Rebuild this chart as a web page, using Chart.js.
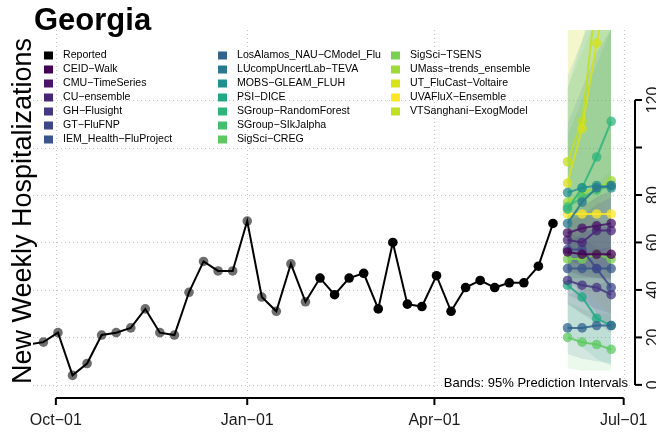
<!DOCTYPE html>
<html>
<head>
<meta charset="utf-8">
<script src="https://cdn.jsdelivr.net/npm/chart.js@4.4.0/dist/chart.umd.min.js"></script>
<style>
  html, body { margin: 0; padding: 0; background: #fff; }
  canvas { display: block; }
</style>
</head>
<body>
<canvas id="chart" width="656" height="435"></canvas>
<script>
// weekly reported hospitalizations (first one sits just left of the plot)
const reportedDates = [
  '2022-09-18', '2022-09-25', '2022-10-02', '2022-10-09', '2022-10-16', '2022-10-23', '2022-10-30',
  '2022-11-06', '2022-11-13', '2022-11-20', '2022-11-27', '2022-12-04', '2022-12-11', '2022-12-18',
  '2022-12-25', '2023-01-01', '2023-01-08', '2023-01-15', '2023-01-22', '2023-01-29', '2023-02-05',
  '2023-02-12', '2023-02-19', '2023-02-26', '2023-03-05', '2023-03-12', '2023-03-19', '2023-03-26',
  '2023-04-02', '2023-04-09', '2023-04-16', '2023-04-23', '2023-04-30', '2023-05-07', '2023-05-14',
  '2023-05-21', '2023-05-28'
];
const reportedValues = [
  17, 18, 22, 4, 9, 21, 22, 24, 32, 22, 21, 39, 52, 48, 48, 69, 37, 31, 51, 35,
  45, 38, 45, 47, 32, 60, 34, 33, 46, 31, 41, 44, 41, 43, 43, 50, 68
];
const greyUntil = '2023-01-29';

const forecastDates = ['2023-06-04', '2023-06-11', '2023-06-18', '2023-06-25'];

const modelNames = [
  'CEID−Walk', 'CMU−TimeSeries', 'CU−ensemble', 'GH−Flusight', 'GT−FluFNP', 'IEM_Health−FluProject',
  'LosAlamos_NAU−CModel_Flu', 'LUcompUncertLab−TEVA', 'MOBS−GLEAM_FLUH', 'PSI−DICE',
  'SGroup−RandomForest', 'SGroup−SIkJalpha', 'SigSci−CREG', 'SigSci−TSENS',
  'UMass−trends_ensemble', 'UT_FluCast−Voltaire', 'UVAFluX−Ensemble', 'VTSanghani−ExogModel'
];
const modelColors = [
  '#440154', '#481568', '#482677', '#453781', '#3f4788', '#39558c',
  '#32648e', '#2a788e', '#21908c', '#22a884',
  '#2fb47c', '#44bf70', '#5ec962', '#7ad151',
  '#a0da39', '#d6e21a', '#fde725', '#c2df23'
];
const medianValues = [
  [56, 55, 55, 55], [64, 66, 67, 68], [61, 60, 65, 65], [44, 42, 41, 38], [57, 57, 49, 41], [49, 49, 49, 49],
  [24, 24, 25, 25], [68, 77, 83, 84], [81, 83, 84, 83], [42, 37, 28, 25],
  [74, 83, 96, 111], [75, 79, 82, 84], [20, 18, 17, 15], [53, 53, 55, 53],
  [77, 81, 83, 86], [85, 108, 144, 175], [72, 72, 72, 72], [94, 111, 165, 185]
];
const lowerValues = [
  [48, 46, 45, 44], [57, 55, 54, 53], [53, 50, 49, 48], [34, 30, 26, 22], [45, 38, 30, 24], [38, 35, 32, 30],
  [13, 11, 10, 9], [45, 45, 45, 45], [45, 42, 40, 38], [22, 16, 11, 8],
  [50, 52, 55, 58], [50, 48, 46, 45], [7, 6, 6, 6], [35, 30, 28, 25],
  [45, 45, 45, 45], [55, 60, 70, 80], [45, 40, 35, 30], [60, 65, 75, 85]
];
const upperValues = [
  [64, 65, 66, 67], [71, 75, 79, 82], [69, 71, 76, 79], [55, 56, 57, 58], [70, 72, 70, 65], [60, 64, 66, 68],
  [38, 40, 42, 44], [110, 125, 140, 150], [130, 145, 160, 175], [64, 62, 58, 54],
  [125, 145, 170, 200], [105, 120, 135, 150], [35, 32, 30, 30], [75, 80, 85, 90],
  [125, 140, 155, 170], [155, 190, 240, 290], [105, 120, 135, 150], [170, 210, 260, 300]
];

const tickDates = ['2022-10-01', '2023-01-01', '2023-04-01', '2023-07-01'];
const tickLabels = ['Oct−01', 'Jan−01', 'Apr−01', 'Jul−01'];
const yTicks = [0, 20, 40, 60, 80, 100, 120];
const yTickLabels = ['0', '20', '40', '60', '80', '', '120'];

const FONT = '"Liberation Sans", Arial, Helvetica, sans-serif';
const origin = Date.UTC(2022, 9, 1);
function dayOf(s) {
  const p = s.split('-').map(Number);
  return (Date.UTC(p[0], p[1] - 1, p[2]) - origin) / 864e5;
}
function rgba(hex, a) {
  const n = parseInt(hex.slice(1), 16);
  return 'rgba(' + (n >> 16) + ',' + ((n >> 8) & 255) + ',' + (n & 255) + ',' + a + ')';
}
const fDays = forecastDates.map(dayOf);
const greyDay = dayOf(greyUntil);

const datasets = [];
// prediction bands
modelNames.forEach((m, i) => {
  datasets.push({
    data: fDays.map((d, j) => ({ x: d, y: upperValues[i][j] })),
    fill: '+1', backgroundColor: rgba(modelColors[i], 0.12),
    borderWidth: 0, pointRadius: 0, order: 20
  });
  datasets.push({
    data: fDays.map((d, j) => ({ x: d, y: lowerValues[i][j] })),
    fill: false, borderWidth: 0, pointRadius: 0, order: 20
  });
});
// medians
modelNames.forEach((m, i) => {
  datasets.push({
    data: fDays.map((d, j) => ({ x: d, y: medianValues[i][j] })),
    fill: false, borderColor: rgba(modelColors[i], 0.85), borderWidth: 2,
    pointRadius: 4.8, pointBorderWidth: 0, pointBackgroundColor: rgba(modelColors[i], 0.75),
    order: 5
  });
});
const repData = reportedDates.map((s, i) => ({ x: dayOf(s), y: reportedValues[i] }));
datasets.push({
  data: repData, showLine: false, order: 3,
  pointRadius: c => (c.raw && c.raw.x >= -7 && c.raw.x <= greyDay) ? 4.8 : 0,
  pointBorderWidth: 0, pointBackgroundColor: '#6e6e6e'
});
datasets.push({
  data: repData, fill: false, borderColor: '#000', borderWidth: 2, order: 1,
  pointRadius: c => (c.raw && c.raw.x > greyDay) ? 4.8 : 0,
  pointBorderWidth: 0, pointBackgroundColor: '#000'
});

const decor = {
  id: 'decor',
  beforeDraw(chart) {
    const { ctx, chartArea: a, scales: { x, y } } = chart;
    ctx.save();
    ctx.strokeStyle = '#c4c4c4';
    ctx.lineWidth = 1;
    ctx.setLineDash([1, 3]);
    tickDates.forEach(s => {
      const px = Math.round(x.getPixelForValue(dayOf(s))) + 0.5;
      ctx.beginPath(); ctx.moveTo(px, a.top); ctx.lineTo(px, a.bottom); ctx.stroke();
    });
    yTicks.forEach(v => {
      const py = Math.round(y.getPixelForValue(v)) + 0.5;
      ctx.beginPath(); ctx.moveTo(a.left, py); ctx.lineTo(a.right, py); ctx.stroke();
    });
    ctx.restore();
  },
  afterDraw(chart) {
    const { ctx, scales: { x, y } } = chart;
    ctx.save();
    ctx.strokeStyle = '#000';
    ctx.lineWidth = 2;
    // x axis
    const x0 = x.getPixelForValue(dayOf(tickDates[0]));
    const x1 = x.getPixelForValue(dayOf(tickDates[tickDates.length - 1]));
    ctx.beginPath(); ctx.moveTo(x0, 398); ctx.lineTo(x1, 398); ctx.stroke();
    ctx.fillStyle = '#1a1a1a';
    ctx.font = '16px ' + FONT;
    ctx.textAlign = 'center';
    ctx.textBaseline = 'middle';
    tickDates.forEach((s, i) => {
      const px = x.getPixelForValue(dayOf(s));
      ctx.beginPath(); ctx.moveTo(px, 398); ctx.lineTo(px, 405); ctx.stroke();
      ctx.fillText(tickLabels[i], px, 421);
    });
    // y axis on the right
    const yb = y.getPixelForValue(yTicks[0]);
    const yt = y.getPixelForValue(yTicks[yTicks.length - 1]);
    ctx.beginPath(); ctx.moveTo(635, yb); ctx.lineTo(635, yt); ctx.stroke();
    yTicks.forEach((v, i) => {
      const py = y.getPixelForValue(v);
      ctx.beginPath(); ctx.moveTo(635, py); ctx.lineTo(642, py); ctx.stroke();
      if (!yTickLabels[i]) return;
      ctx.save();
      ctx.translate(658, py);
      ctx.rotate(-Math.PI / 2);
      ctx.textBaseline = 'alphabetic';
      ctx.fillText(yTickLabels[i], 0, 0);
      ctx.restore();
    });
    // y title
    ctx.save();
    ctx.fillStyle = '#000';
    ctx.translate(31, 211);
    ctx.rotate(-Math.PI / 2);
    ctx.font = '27px ' + FONT;
    ctx.textBaseline = 'alphabetic';
    ctx.fillText('New Weekly Hospitalizations', 0, 0);
    ctx.restore();
    // title
    ctx.fillStyle = '#000';
    ctx.font = 'bold 31px ' + FONT;
    ctx.textAlign = 'left';
    ctx.textBaseline = 'alphabetic';
    ctx.fillText('Georgia', 34, 30);
    // note
    ctx.font = '13px ' + FONT;
    ctx.textAlign = 'right';
    ctx.textBaseline = 'middle';
    ctx.fillText('Bands: 95% Prediction Intervals', 628, 383);
    // legend
    const names = ['Reported'].concat(modelNames);
    const cols = ['#000'].concat(modelColors);
    const colX = [44, 218, 391];
    const txtX = [63, 237, 410];
    ctx.font = '10.6px ' + FONT;
    ctx.textAlign = 'left';
    names.forEach((n, i) => {
      const c = Math.floor(i / 7), r = i % 7;
      const cy = 55.5 + r * 14;
      ctx.fillStyle = cols[i];
      ctx.fillRect(colX[c], cy - 4, 9, 8);
      ctx.fillStyle = '#000';
      ctx.fillText(n, txtX[c], cy);
    });
    ctx.restore();
  }
};

new Chart(document.getElementById('chart').getContext('2d'), {
  type: 'line',
  data: { datasets },
  options: {
    responsive: false,
    animation: false,
    devicePixelRatio: 1,
    layout: { padding: { left: 33, right: 24, top: 30, bottom: 43 } },
    elements: { line: { tension: 0 } },
    plugins: {
      legend: { display: false },
      tooltip: { enabled: false },
      filler: { drawTime: 'beforeDatasetsDraw' }
    },
    scales: {
      x: { type: 'linear', display: false, min: -11, max: 277 },
      y: { type: 'linear', display: false, min: -3, max: 149.5 }
    }
  },
  plugins: [decor]
});
</script>
</body>
</html>
